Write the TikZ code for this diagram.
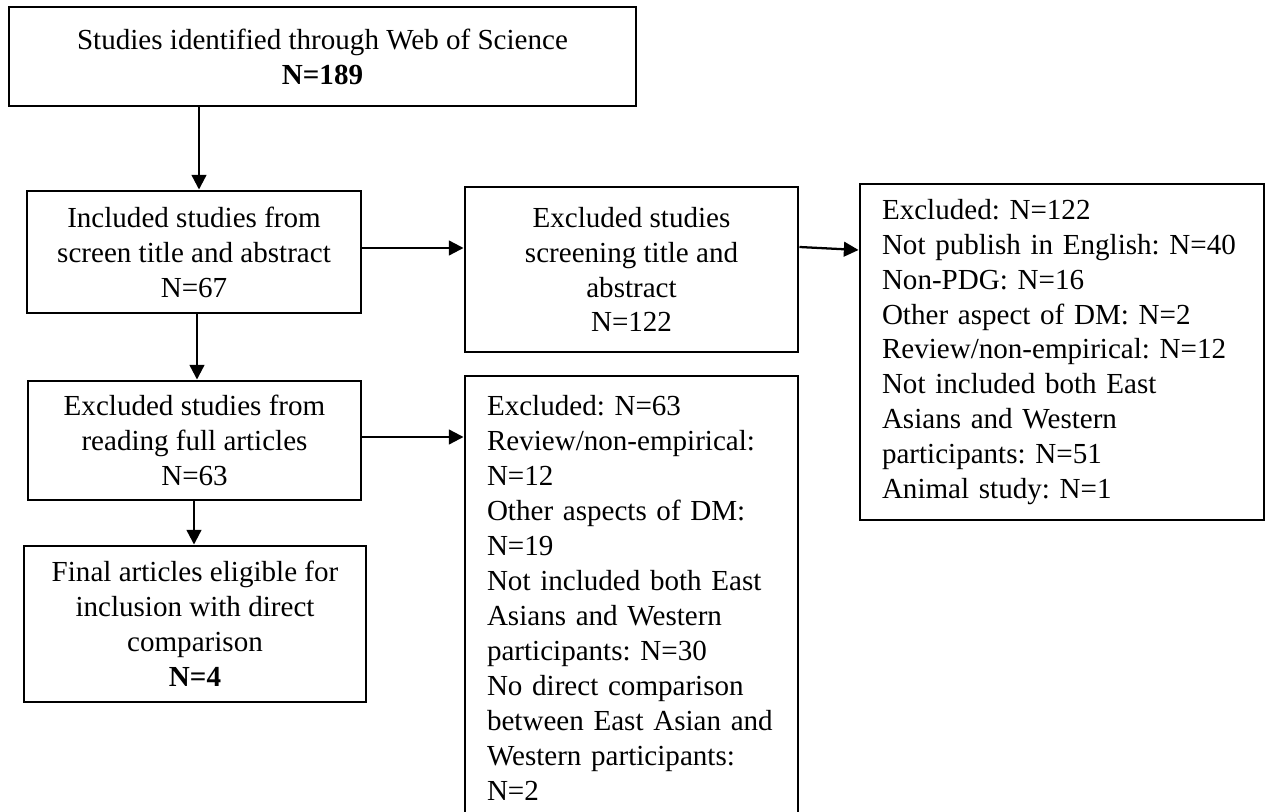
\documentclass[tikz,border=0pt]{standalone}
\usepackage{fontspec}
\setmainfont{Liberation Serif}
\usetikzlibrary{arrows.meta}
\begin{document}
\frenchspacing
\begin{tikzpicture}[x=0.75pt,y=-0.75pt,
  every node/.style={font=\fontsize{21.8}{26.2}\selectfont},
  box/.style 2 args={draw,line width=2.2pt,inner sep=0pt,align=center,
    minimum width=#1*0.75pt,minimum height=#2*0.75pt},
  listbox/.style={draw,line width=2.2pt,inner xsep=22*0.75pt,inner ysep=0pt,align=left,
    text width=#1*0.75pt},
  arr/.style={line width=1.7pt,-{Triangle[length=11pt,width=11pt]}}]
\useasboundingbox (0,0) rectangle (1267,812);
\clip (0,0) rectangle (1267,812);

% boxes of the flow
\node[box={627}{99}] (A) at (322.5,56.5)
  {Studies identified through Web of Science\\ \textbf{N=189}};
\node[box={334}{122}] (B) at (194,252)
  {Included studies from\\ screen title and abstract\\ N=67};
\node[box={333}{165}] (C) at (631.5,269.5)
  {Excluded studies\\ screening title and\\ abstract\\ N=122};
\node[listbox=360,minimum height=336*0.75pt] (D) at (1062,352)
  {Excluded: N=122\\ Not publish in English: N=40\\ Non-PDG: N=16\\ Other aspect of DM: N=2\\
   Review/non-empirical: N=12\\ Not included both East\\ Asians and Western\\
   participants: N=51\\ Animal study: N=1};
\node[box={333}{119}] (E) at (194.5,440.5)
  {Excluded studies from\\ reading full articles\\ N=63};
\node[box={342}{156}] (F) at (195,624)
  {Final articles eligible for\\ inclusion with direct\\ comparison\\ \textbf{N=4}};
\node[listbox=289,minimum height=444*0.75pt] (G) at (631.5,598)
  {Excluded: N=63\\ Review/non-empirical:\\ N=12\\ Other aspects of DM:\\ N=19\\
   Not included both East\\ Asians and Western\\ participants: N=30\\
   No direct comparison\\ between East Asian and\\ Western participants:\\ N=2};

% connector positions
\coordinate (xa) at (199,0);
\coordinate (xb) at (197,0);
\coordinate (xe) at (194,0);
\coordinate (yb) at (0,248);
\coordinate (yc) at (0,247);
\coordinate (yd) at (0,250);
\coordinate (ye) at (0,437);

\draw[arr] (A.south -| xa) -- (B.north -| xa);
\draw[arr] (B.south -| xb) -- (E.north -| xb);
\draw[arr] (E.south -| xe) -- (F.north -| xe);
\draw[arr] (B.east |- yb) -- (C.west |- yb);
\draw[arr] (C.east |- yc) -- (D.west |- yd);
\draw[arr] (E.east |- ye) -- (G.west |- ye);
\end{tikzpicture}
\end{document}
